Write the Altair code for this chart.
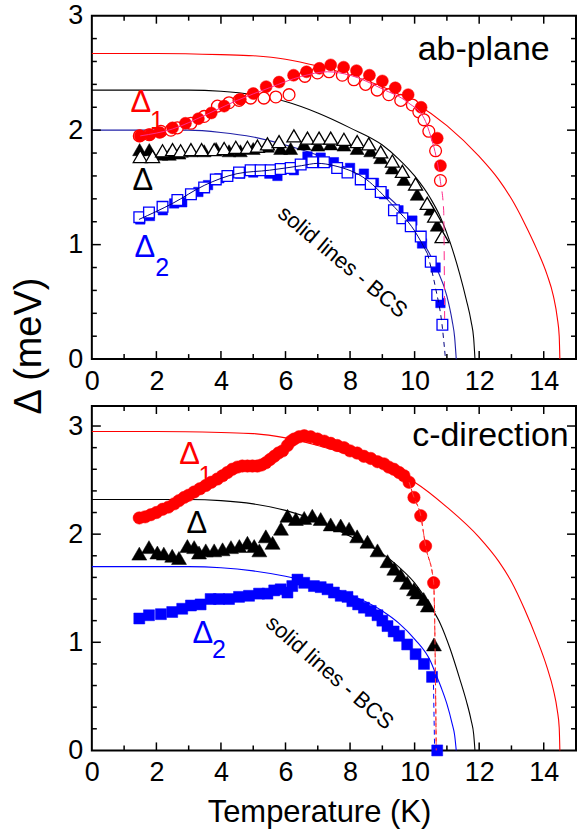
import altair as alt
import pandas as pd

FONT = "Liberation Sans"
W = 485
H_TOP = 344
H_BOT = 345

# ---------------- axis / tick values ----------------
x_label_vals = [0, 2, 4, 6, 8, 10, 12, 14]
x_major_ticks = [2, 4, 6, 8, 10, 12, 14]
x_minor_ticks = [1, 3, 5, 7, 9, 11, 13]
y_label_vals = [0, 1, 2, 3]
y_major_ticks_top = [1, 2]
y_minor_ticks_top = [0.2, 0.4, 0.6, 0.8, 1.2, 1.4, 1.6, 1.8, 2.2, 2.4, 2.6, 2.8]
y_major_ticks_bot = [1, 2, 3]
y_minor_ticks_bot = [0.2, 0.4, 0.6, 0.8, 1.2, 1.4, 1.6, 1.8, 2.2, 2.4, 2.6, 2.8]

# ---------------- TOP PANEL (ab-plane) ----------------
bcs_top_red_x = [0, 2, 4, 5, 6, 7, 8, 9, 10, 11, 12, 12.6, 13.0, 13.4, 13.8, 14.1, 14.3, 14.42, 14.48, 14.5]
bcs_top_red_y = [2.67, 2.67, 2.66, 2.65, 2.62, 2.56, 2.48, 2.38, 2.24, 2.04, 1.77, 1.57, 1.40, 1.19, 0.95, 0.74, 0.55, 0.36, 0.20, 0.0]
bcs_top_blk_x = [0, 3, 4, 5, 6, 7, 8, 9, 9.5, 10, 10.5, 10.8, 11.1, 11.4, 11.6, 11.75, 11.83, 11.87]
bcs_top_blk_y = [2.35, 2.35, 2.34, 2.31, 2.25, 2.15, 2.02, 1.87, 1.75, 1.60, 1.40, 1.24, 1.02, 0.74, 0.52, 0.33, 0.18, 0.0]
bcs_top_blu_x = [0, 3, 4, 5, 6, 7, 8, 9, 9.5, 10, 10.5, 10.7, 11.0, 11.16, 11.24, 11.29]
bcs_top_blu_y = [2.0, 2.0, 1.98, 1.94, 1.87, 1.78, 1.65, 1.46, 1.33, 1.13, 0.90, 0.78, 0.55, 0.34, 0.19, 0.0]

d1_ab_filled_x = [1.5, 1.8, 2.1, 2.5, 2.9, 3.3, 3.7, 4.1, 4.6, 5.0, 5.4, 5.8, 6.25, 6.65, 7.05, 7.4, 7.8, 8.2, 8.6, 9.0, 9.4, 9.8, 10.2, 10.7, 10.8]
d1_ab_filled_y = [1.95, 1.96, 1.98, 2.02, 2.06, 2.10, 2.15, 2.21, 2.27, 2.32, 2.38, 2.42, 2.48, 2.51, 2.54, 2.57, 2.55, 2.52, 2.48, 2.43, 2.37, 2.31, 2.20, 1.93, 1.69]
d1_ab_open_x = [1.47, 1.77, 2.14, 2.45, 2.65, 3.07, 3.48, 3.89, 4.25, 4.56, 4.92, 5.33, 5.70, 6.11, 6.6, 6.99, 7.35, 7.76, 8.12, 8.48, 8.84, 9.20, 9.57, 9.93, 10.13, 10.29, 10.44, 10.65, 10.80]
d1_ab_open_y = [1.95, 1.96, 1.99, 2.00, 2.02, 2.06, 2.12, 2.21, 2.24, 2.26, 2.28, 2.28, 2.29, 2.31, 2.47, 2.50, 2.51, 2.48, 2.44, 2.40, 2.35, 2.31, 2.26, 2.22, 2.16, 2.09, 1.99, 1.82, 1.56]
d1_ab_guide_x = [1.5, 2.5, 3.5, 4.5, 5.5, 6.5, 7.3, 8.0, 9.0, 9.8, 10.3, 10.6]
d1_ab_guide_y = [1.95, 2.01, 2.13, 2.26, 2.37, 2.47, 2.51, 2.48, 2.36, 2.24, 2.10, 1.85]
d1_ab_tail_x = [10.6, 10.8, 10.9, 10.93]
d1_ab_tail_y = [1.85, 1.55, 1.30, 0.35]

d_ab_filled_x = [1.48, 1.78, 2.14, 2.4, 2.7, 3.07, 3.48, 3.85, 4.25, 4.6, 5.0, 5.44, 5.85, 6.16, 6.57, 7.0, 7.4, 7.81, 8.22, 8.64, 8.95, 9.31, 9.67, 10.08, 10.5, 10.7]
d_ab_filled_y = [1.83, 1.83, 1.79, 1.79, 1.80, 1.82, 1.82, 1.84, 1.82, 1.82, 1.84, 1.86, 1.84, 1.84, 1.88, 1.87, 1.88, 1.87, 1.84, 1.82, 1.76, 1.67, 1.57, 1.44, 1.31, 1.17]
d_ab_open_x = [1.5, 1.88, 2.19, 2.5, 2.75, 3.07, 3.4, 3.79, 4.1, 4.46, 4.82, 5.13, 5.44, 5.8, 6.26, 6.68, 7.04, 7.4, 7.81, 8.22, 8.58, 8.95, 9.31, 9.62, 10.03, 10.39, 10.62, 10.85]
d_ab_open_y = [1.77, 1.77, 1.82, 1.83, 1.82, 1.83, 1.83, 1.83, 1.84, 1.85, 1.85, 1.86, 1.88, 1.90, 1.95, 1.93, 1.93, 1.93, 1.92, 1.90, 1.88, 1.81, 1.73, 1.64, 1.53, 1.36, 1.25, 1.07]

d2_ab_filled_x = [1.5, 1.8, 2.2, 2.55, 2.8, 3.3, 3.6, 3.95, 4.6, 5.0, 5.5, 5.75, 6.26, 6.68, 7.09, 7.5, 8.0, 8.43, 8.74, 9.05, 9.5, 9.93, 10.23, 10.65, 10.80]
d2_ab_filled_y = [1.22, 1.25, 1.30, 1.36, 1.37, 1.46, 1.52, 1.58, 1.62, 1.63, 1.62, 1.60, 1.65, 1.77, 1.76, 1.72, 1.67, 1.62, 1.54, 1.44, 1.30, 1.21, 1.01, 0.80, 0.49]
d2_ab_open_x = [1.47, 1.77, 2.19, 2.65, 3.07, 3.48, 3.84, 4.2, 4.56, 4.92, 5.23, 5.54, 5.85, 6.16, 6.47, 6.83, 7.19, 7.6, 7.92, 8.33, 8.64, 8.95, 9.36, 9.62, 9.88, 10.19, 10.5, 10.70, 10.86]
d2_ab_open_y = [1.24, 1.28, 1.33, 1.39, 1.44, 1.50, 1.57, 1.60, 1.63, 1.65, 1.65, 1.65, 1.66, 1.67, 1.70, 1.72, 1.72, 1.67, 1.63, 1.57, 1.53, 1.46, 1.30, 1.23, 1.16, 1.07, 0.85, 0.56, 0.30]
d2_ab_guide_x = [1.46, 2.5, 3.5, 4.5, 5.5, 6.5, 7.0, 7.5, 8.5, 9.3, 10.0, 10.4]
d2_ab_guide_y = [1.22, 1.36, 1.52, 1.62, 1.65, 1.69, 1.71, 1.69, 1.57, 1.35, 1.12, 0.92]
d2_ab_tail_x = [10.4, 10.65, 10.85, 10.95]
d2_ab_tail_y = [0.92, 0.62, 0.30, 0.02]

# ---------------- BOTTOM PANEL (c-direction) ----------------
bcs_bot_red_x = [0, 2, 4, 5, 6, 7, 8, 9, 10, 11, 12, 12.6, 13.0, 13.4, 13.8, 14.1, 14.3, 14.42, 14.48, 14.5]
bcs_bot_red_y = [2.95, 2.95, 2.94, 2.93, 2.89, 2.82, 2.73, 2.62, 2.48, 2.25, 1.97, 1.75, 1.56, 1.31, 1.02, 0.77, 0.56, 0.37, 0.21, 0.0]
bcs_bot_blk_x = [0, 3, 4, 5, 6, 7, 8, 9, 9.5, 10, 10.5, 10.8, 11.1, 11.4, 11.6, 11.75, 11.83, 11.87]
bcs_bot_blk_y = [2.32, 2.32, 2.31, 2.28, 2.22, 2.12, 1.98, 1.82, 1.70, 1.55, 1.33, 1.17, 0.94, 0.66, 0.46, 0.28, 0.15, 0.0]
bcs_bot_blu_x = [0, 3, 4, 5, 6, 7, 8, 9, 9.5, 10, 10.5, 10.65, 10.85, 11.0, 11.16, 11.24, 11.29]
bcs_bot_blu_y = [1.70, 1.70, 1.69, 1.66, 1.61, 1.54, 1.44, 1.29, 1.18, 1.03, 0.82, 0.71, 0.56, 0.43, 0.25, 0.14, 0.0]

d1_c_x = [1.47, 1.65, 1.83, 2.0, 2.19, 2.37, 2.55, 2.7, 2.86, 3.0, 3.17, 3.35, 3.53, 3.7, 3.89, 4.05, 4.2, 4.35, 4.51, 4.66, 4.82, 4.97, 5.13, 5.26, 5.39, 5.52, 5.65, 5.78, 5.91, 6.06, 6.17, 6.27, 6.42, 6.58, 6.78, 6.99, 7.2, 7.4, 7.6, 7.81, 8.0, 8.22, 8.43, 8.64, 8.85, 9.05, 9.2, 9.36, 9.52, 9.67, 9.83, 9.98, 10.19, 10.34, 10.59]
d1_c_y = [2.15, 2.16, 2.18, 2.20, 2.23, 2.25, 2.28, 2.31, 2.34, 2.36, 2.39, 2.42, 2.45, 2.48, 2.51, 2.54, 2.57, 2.60, 2.62, 2.63, 2.63, 2.63, 2.63, 2.64, 2.66, 2.69, 2.72, 2.75, 2.77, 2.82, 2.86, 2.88, 2.90, 2.91, 2.90, 2.88, 2.86, 2.84, 2.82, 2.80, 2.77, 2.75, 2.72, 2.70, 2.67, 2.65, 2.62, 2.60, 2.57, 2.54, 2.48, 2.34, 2.17, 1.89, 1.55]
d1_c_tail_x = [9.83, 9.98, 10.19, 10.34, 10.59, 10.67]
d1_c_tail_y = [2.48, 2.34, 2.17, 1.89, 1.55, 0.0]

d_c_x = [1.47, 1.77, 2.03, 2.23, 2.49, 2.70, 2.96, 3.17, 3.32, 3.53, 3.79, 4.05, 4.31, 4.57, 4.82, 5.03, 5.19, 5.39, 5.6, 5.86, 6.06, 6.32, 6.58, 6.83, 7.09, 7.40, 7.71, 7.97, 8.22, 8.54, 8.85, 9.16, 9.37, 9.57, 9.77, 9.98, 10.08, 10.28, 10.41, 10.6]
d_c_y = [1.82, 1.88, 1.83, 1.82, 1.80, 1.78, 1.89, 1.88, 1.83, 1.85, 1.85, 1.86, 1.88, 1.89, 1.92, 1.89, 1.85, 1.98, 1.92, 2.05, 2.17, 2.14, 2.15, 2.17, 2.14, 2.09, 2.08, 2.05, 1.98, 1.93, 1.85, 1.75, 1.68, 1.62, 1.55, 1.49, 1.46, 1.40, 1.34, 0.98]

d2_c_x = [1.47, 1.77, 2.14, 2.49, 2.80, 3.07, 3.37, 3.68, 3.94, 4.25, 4.56, 4.87, 5.18, 5.44, 5.65, 5.85, 6.06, 6.21, 6.37, 6.58, 6.88, 7.09, 7.30, 7.5, 7.71, 7.92, 8.07, 8.25, 8.43, 8.64, 8.85, 9.0, 9.16, 9.35, 9.52, 9.77, 10.03, 10.29, 10.54, 10.70]
d2_c_y = [1.22, 1.25, 1.26, 1.28, 1.31, 1.34, 1.35, 1.40, 1.40, 1.40, 1.42, 1.43, 1.45, 1.45, 1.48, 1.49, 1.46, 1.52, 1.58, 1.55, 1.52, 1.51, 1.49, 1.46, 1.43, 1.42, 1.38, 1.35, 1.32, 1.29, 1.25, 1.20, 1.15, 1.10, 1.06, 0.98, 0.89, 0.80, 0.68, 0.0]
d2_c_tail_x = [10.58, 10.62]
d2_c_tail_y = [0.69, 0.0]


def df(xs, ys):
    return pd.DataFrame({"x": xs, "y": ys})


x_axis = alt.Axis(values=x_label_vals, format="d", ticks=False, domain=False, grid=False,
                  labelFlush=False, labelPadding=9, title=None)
y_axis = alt.Axis(values=y_label_vals, format="d", ticks=False, domain=False, grid=False,
                  labelFlush=False, labelPadding=9, title=None)


def panel(H, ydom, layers_fn, ymaj, ymin):
    X = alt.X("x:Q", scale=alt.Scale(domain=[0, 15], nice=False, zero=False), axis=x_axis)
    Y = alt.Y("y:Q", scale=alt.Scale(domain=ydom, nice=False, zero=False), axis=y_axis)

    def line(xs, ys, color, width=1.0, dash=None):
        kw = dict(color=color, strokeWidth=width, interpolate="monotone")
        if dash:
            kw["strokeDash"] = dash
        return alt.Chart(df(xs, ys)).mark_line(**kw).encode(x=X, y=Y)

    def pts(xs, ys, shape, size, color, open_=False):
        if open_:
            m = alt.Chart(df(xs, ys)).mark_point(shape=shape, size=size, filled=True, fill="white",
                                                 stroke=color, strokeWidth=1.3, opacity=1)
        else:
            m = alt.Chart(df(xs, ys)).mark_point(shape=shape, size=size, filled=True, fill=color,
                                                 stroke=color, strokeWidth=0.5, opacity=1)
        return m.encode(x=X, y=Y)

    def label(text, x, y, color="black", size=26, angle=0):
        return alt.Chart(pd.DataFrame({"x": [x], "y": [y], "t": [text]})).mark_text(
            font=FONT, fontSize=size, color=color, angle=angle, align="center", baseline="middle"
        ).encode(x=X, y=Y, text="t:N")

    def xticks(vals, length):
        d = pd.DataFrame({"x": vals})
        b = alt.Chart(d).mark_rule(color="black", strokeWidth=1.5).encode(
            x=X, y=alt.value(H), y2=alt.value(H - length))
        t = alt.Chart(d).mark_rule(color="black", strokeWidth=1.5).encode(
            x=X, y=alt.value(0), y2=alt.value(length))
        return [b, t]

    def yticks(vals, length):
        d = pd.DataFrame({"y": vals})
        l = alt.Chart(d).mark_rule(color="black", strokeWidth=1.5).encode(
            y=Y, x=alt.value(0), x2=alt.value(length))
        r = alt.Chart(d).mark_rule(color="black", strokeWidth=1.5).encode(
            y=Y, x=alt.value(W), x2=alt.value(W - length))
        return [l, r]

    layers = []
    layers += layers_fn(line, pts, label)
    layers += xticks(x_major_ticks, 8) + xticks(x_minor_ticks, 5)
    layers += yticks(ymaj, 9) + yticks(ymin, 5)
    return layers


def top_layers(line, pts, label):
    L = []
    L.append(line(bcs_top_red_x, bcs_top_red_y, "#ff0000", 1.1))
    L.append(line(bcs_top_blk_x, bcs_top_blk_y, "black", 1.1))
    L.append(line(bcs_top_blu_x, bcs_top_blu_y, "#2020a8", 1.1))
    L.append(pts(d_ab_filled_x, d_ab_filled_y, "triangle-up", 196, "black"))
    L.append(pts(d_ab_open_x, d_ab_open_y, "triangle-up", 196, "black", open_=True))
    L.append(pts(d2_ab_filled_x, d2_ab_filled_y, "square", 90, "#0000ff"))
    L.append(pts(d2_ab_open_x, d2_ab_open_y, "square", 115, "#0000ff", open_=True))
    L.append(pts(d1_ab_open_x, d1_ab_open_y, "circle", 140, "#ff0000", open_=True))
    L.append(pts(d1_ab_filled_x, d1_ab_filled_y, "circle", 145, "#ff0000"))
    L.append(line(d1_ab_guide_x, d1_ab_guide_y, "#ff2a8a", 1.0))
    L.append(line(d1_ab_tail_x, d1_ab_tail_y, "#ff2a8a", 1.0, [9, 6]))
    L.append(line(d2_ab_guide_x, d2_ab_guide_y, "#000080", 1.0))
    L.append(line(d2_ab_tail_x, d2_ab_tail_y, "#000080", 1.0, [5, 4]))
    L.append(label("ab-plane", 12.14, 2.70, "black", 34))
    L.append(label("Δ", 1.52, 2.24, "#ff0000", 31))
    L.append(label("1", 2.02, 2.08, "#ff0000", 25))
    L.append(label("Δ", 1.58, 1.56, "black", 31))
    L.append(label("Δ", 1.64, 0.97, "#0000ff", 31))
    L.append(label("2", 2.18, 0.80, "#0000ff", 25))
    L.append(label("solid  lines - BCS", 7.77, 0.85, "black", 22, 40))
    # y-axis title (shared by both panels)
    L.append(alt.Chart(pd.DataFrame({"t": ["Δ (meV)"]})).mark_text(
        font=FONT, fontSize=38, color="black", angle=270, align="center", baseline="middle"
    ).encode(x=alt.value(-62), y=alt.value(331), text="t:N"))
    # layout anchor (invisible) fixing the plot origin inside the page
    L.append(alt.Chart(pd.DataFrame({"t": [0]})).mark_rule(opacity=0).encode(
        x=alt.value(-91), x2=alt.value(-90), y=alt.value(-13), y2=alt.value(-12)))
    return L


def bot_layers(line, pts, label):
    L = []
    L.append(line(bcs_bot_red_x, bcs_bot_red_y, "#ff0000", 1.1))
    L.append(line(bcs_bot_blk_x, bcs_bot_blk_y, "black", 1.1))
    L.append(line(bcs_bot_blu_x, bcs_bot_blu_y, "#0000ff", 1.1))
    L.append(line(d1_c_tail_x, d1_c_tail_y, "#ff0000", 1.0, [4, 3]))
    L.append(pts(d_c_x, d_c_y, "triangle-up", 225, "black"))
    L.append(pts(d2_c_x, d2_c_y, "square", 121, "#0000ff"))
    L.append(pts(d1_c_x, d1_c_y, "circle", 155, "#ff0000"))
    L.append(line(d2_c_tail_x, d2_c_tail_y, "#0000ff", 1.0, [5, 4]))
    L.append(line(d1_c_tail_x, d1_c_tail_y, "#ff4040", 1.0, [6, 4]))
    L.append(label("c-direction", 12.35, 2.91, "black", 34))
    L.append(label("Δ", 3.03, 2.73, "#ff0000", 31))
    L.append(label("1", 3.52, 2.54, "#ff0000", 25))
    L.append(label("Δ", 3.25, 2.09, "black", 31))
    L.append(label("Δ", 3.44, 1.08, "#0000ff", 31))
    L.append(label("2", 3.94, 0.93, "#0000ff", 25))
    L.append(label("solid  lines - BCS", 7.37, 0.72, "black", 22, 41))
    L.append(alt.Chart(pd.DataFrame({"t": ["Temperature  (K)"]})).mark_text(
        font=FONT, fontSize=31, color="black", align="center", baseline="middle"
    ).encode(x=alt.value(228), y=alt.value(H_BOT + 63), text="t:N"))
    return L


top = alt.layer(*panel(H_TOP, [0, 3], top_layers, y_major_ticks_top, y_minor_ticks_top)).properties(
    width=W, height=H_TOP)
bot = alt.layer(*panel(H_BOT, [0, 3.185], bot_layers, y_major_ticks_bot, y_minor_ticks_bot)).properties(
    width=W, height=H_BOT)

chart = alt.vconcat(top, bot, spacing=47, bounds="flush").properties(
    padding=0, background="white"
).configure_view(stroke="black", strokeWidth=2).configure_axis(
    labelFont=FONT, labelFontSize=27, labelColor="black"
)

chart.save("out.html", embed_options={"renderer": "svg", "actions": False})
